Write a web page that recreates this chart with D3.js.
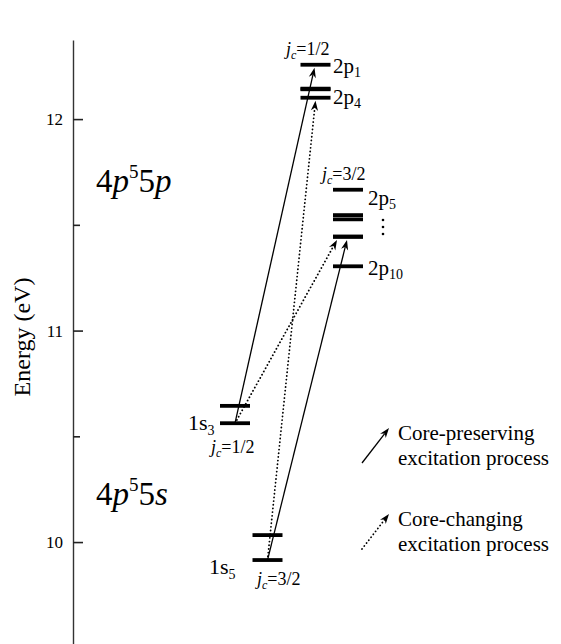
<!DOCTYPE html>
<html><head><meta charset="utf-8">
<script src="https://cdn.jsdelivr.net/npm/d3@7"></script>
<style>
body{margin:0;background:#fff}
text{font-family:"Liberation Serif","Times New Roman",serif;fill:#000}
</style>
</head><body>
<svg id="c" width="561" height="644"></svg>
<script>
// ---- data ----
const yTicks = [10, 11, 12];
const yMinorTicks = [10.5, 11.5];
const levelNames    = ["1s5","1s4","1s3","1s2","2p10","2p9","2p8","2p7","2p6","2p5","2p4","2p3","2p2","2p1"];
const levelEnergies = [9.915,10.033,10.562,10.644,11.304,11.443,11.445,11.526,11.546,11.666,12.101,12.141,12.144,12.257];
const levelGroups   = ["s32","s32","s12","s12","p32","p32","p32","p32","p32","p32","p12","p12","p12","p12"];
const groupNames = ["s12","s32","p12","p32"];
const transFrom = ["1s3","1s3","1s5","1s5"];
const transTo   = ["2p1","2p9","2p9","2p4"];
const transType = ["preserving","changing","preserving","changing"];
const legendTypes = ["preserving","changing"];
const legendLine1 = ["Core-preserving","Core-changing"];
const legendLine2 = ["excitation process","excitation process"];

// ---- layout ----
const svg = d3.select("#c");
const axisX = 73;
const y = d3.scaleLinear().domain([9.518, 12.374]).range([644, 40]);
const x = d3.scaleOrdinal().domain(groupNames).range([235, 267.5, 315.5, 348]);
const halfW = 15;
const transEndDx = [-1, -11, -1, 0];

const E = {}; levelNames.forEach((n,i)=>E[n]=levelEnergies[i]);
const G = {}; levelNames.forEach((n,i)=>G[n]=levelGroups[i]);

// axis
const ax = svg.append("g").attr("transform",`translate(${axisX},0)`)
  .call(d3.axisLeft(y).tickValues(yTicks).tickFormat(d3.format("d")).tickSize(-10).tickSizeOuter(0).tickPadding(10));
ax.select(".domain").attr("stroke","#333").attr("stroke-width",1.4);
ax.selectAll(".tick line").attr("stroke","#222").attr("stroke-width",1.6);
ax.selectAll(".tick text").style("font-family","Liberation Serif").style("font-size","17px").attr("fill","#000");
const axm = svg.append("g").attr("transform",`translate(${axisX},0)`)
  .call(d3.axisLeft(y).tickValues(yMinorTicks).tickFormat("").tickSize(-7).tickSizeOuter(0));
axm.select(".domain").remove();
axm.selectAll(".tick line").attr("stroke","#222").attr("stroke-width",1.6);

svg.append("text").attr("transform",`translate(30,${337}) rotate(-90)`)
  .attr("text-anchor","middle").style("font-size","24px").text("Energy (eV)");

// configuration labels
function conf(xp, yp, last){
  const t = svg.append("text").attr("x",xp).attr("y",yp).style("font-size","33px");
  t.append("tspan").text("4");
  t.append("tspan").style("font-style","italic").text("p");
  t.append("tspan").attr("dy",-14).style("font-size","19px").text("5");
  t.append("tspan").attr("dy",14).text("5");
  t.append("tspan").style("font-style","italic").text(last);
}
conf(96,192,"p");
conf(96,505,"s");

// levels
svg.append("g").selectAll("line").data(levelNames).join("line")
  .attr("x1",d=>x(G[d])-halfW).attr("x2",d=>x(G[d])+halfW)
  .attr("y1",d=>y(E[d])).attr("y2",d=>y(E[d]))
  .attr("stroke","#000").attr("stroke-width",3.8);

// arrows
function arrowHead(x2,y2,ang){
  const L=10, W=3.6, N=7;
  const c=Math.cos(ang), s=Math.sin(ang);
  const p=(a,b)=>[x2 - a*c + b*s, y2 - a*s - b*c];
  return "M"+[p(0,0),p(L,W),p(N,0),p(L,-W)].map(q=>q.join(",")).join("L")+"Z";
}
function drawArrow(g,x1,y1,x2,y2,type){
  const ang=Math.atan2(y2-y1,x2-x1);
  const back=7;
  g.append("line").attr("x1",x1).attr("y1",y1)
    .attr("x2",x2-back*Math.cos(ang)).attr("y2",y2-back*Math.sin(ang))
    .attr("stroke","#000")
    .attr("stroke-width",type==="preserving"?1.3:1.8)
    .attr("stroke-dasharray",type==="preserving"?null:"0.1,3.6")
    .attr("stroke-linecap",type==="preserving"?"butt":"round");
  g.append("path").attr("d",arrowHead(x2,y2,ang)).attr("fill","#000");
}
const ga = svg.append("g");
transFrom.forEach((f,i)=>{
  const t = transTo[i];
  drawArrow(ga, x(G[f]), y(E[f]), x(G[t])+transEndDx[i], y(E[t])+3, transType[i]);
});

// j_c labels
function jc(xp, yp, val){
  const t = svg.append("text").attr("x",xp).attr("y",yp).style("font-size","18px");
  t.append("tspan").style("font-style","italic").text("j");
  t.append("tspan").attr("dy",4).style("font-size","12px").style("font-style","italic").text("c");
  t.append("tspan").attr("dy",-4).text("="+val);
}
jc(286,55,"1/2");
jc(322,180,"3/2");
jc(211,453,"1/2");
jc(257,585,"3/2");

function lev(xp, yp, main, sub, fs, sfs, dy){
  const t = svg.append("text").attr("x",xp).attr("y",yp).style("font-size",fs+"px");
  t.append("tspan").text(main);
  t.append("tspan").attr("dy",dy).style("font-size",sfs+"px").text(sub);
}
lev(333,73,"2p","1",21,14,4);
lev(333,104,"2p","4",21,14,4);
lev(368,205,"2p","5",21,14,4);
lev(368,275,"2p","10",21,14,4);
lev(188,430,"1s","3",22,14,5);
lev(209,574,"1s","5",22,14,5);
// vertical ellipsis
svg.append("g").selectAll("circle").data([0,1,2]).join("circle")
  .attr("cx",383).attr("cy",d=>220+d*7).attr("r",1.3).attr("fill","#000");

// legend
legendTypes.forEach((t,i)=>{
  const oy = i*86;
  drawArrow(svg, 362, 463+oy, 389, 428+oy, t);
  svg.append("text").attr("x",398).attr("y",440+oy).style("font-size","21px").text(legendLine1[i]);
  svg.append("text").attr("x",398).attr("y",465+oy).style("font-size","21px").text(legendLine2[i]);
});
</script>
</body></html>
